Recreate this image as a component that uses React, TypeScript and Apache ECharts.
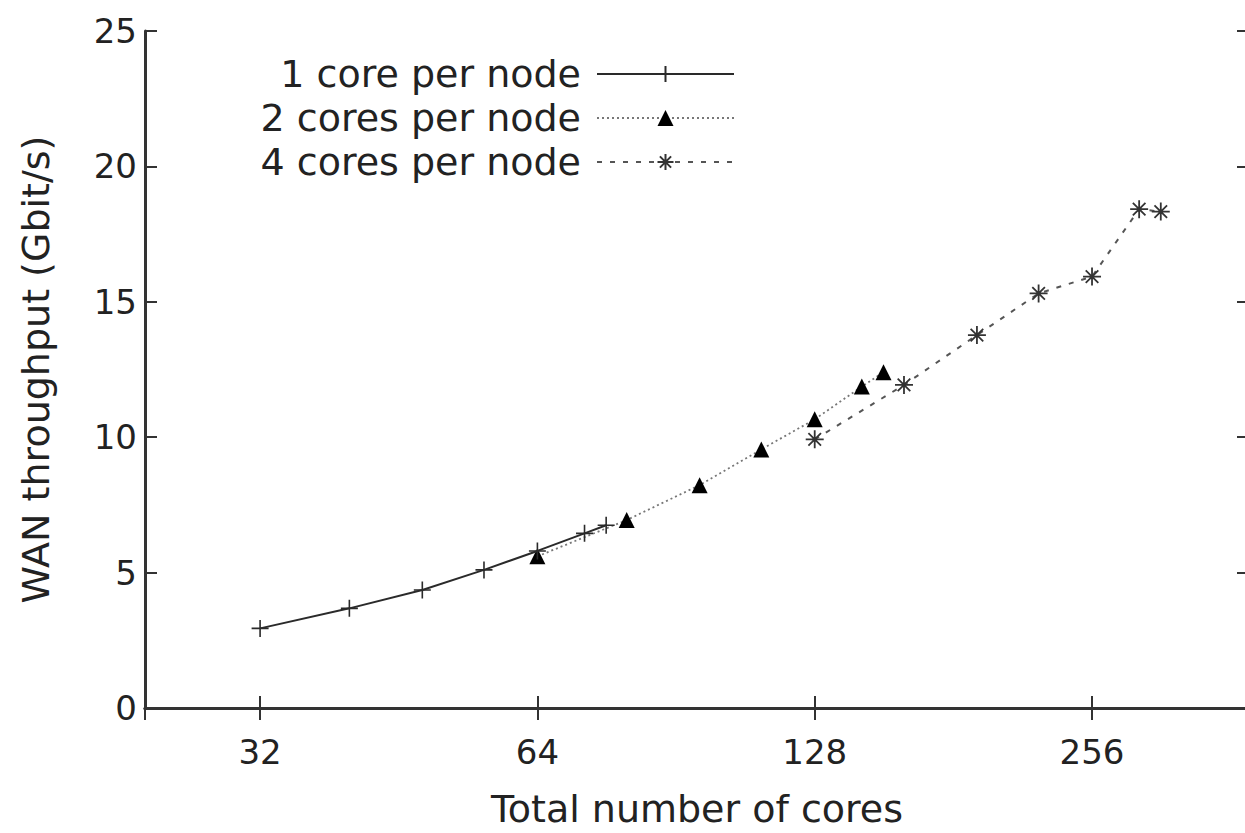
import React, { useEffect, useRef } from 'react';
import * as echarts from 'echarts';

// Total number of cores (x, log2 scale) and WAN throughput in Gbit/s (y)
const cores1 = [32, 40, 48, 56, 64, 72, 76];
const thr1 = [2.94, 3.68, 4.36, 5.1, 5.8, 6.45, 6.75];
const cores2 = [64, 80, 96, 112, 128, 144, 152];
const thr2 = [5.6, 6.94, 8.23, 9.55, 10.66, 11.87, 12.4];
const cores4 = [128, 160, 192, 224, 256, 288, 304];
const thr4 = [9.92, 11.93, 13.77, 15.31, 15.93, 18.42, 18.33];
const seriesNames = ['1 core per node', '2 cores per node', '4 cores per node'];
const xTicks = [32, 64, 128, 256];
const yTicks = [0, 5, 10, 15, 20, 25];

const FONT = 'DejaVu Sans';
const INK = '#222';
const FRAME = '#333';

const PLUS = 'path://M0,5L10,5M5,0L5,10';
const STAR = 'path://M0,5L10,5M5,0L5,10M1.5,1.5L8.5,8.5M1.5,8.5L8.5,1.5';

function zip(xs: number[], ys: number[]) {
  return xs.map((x, i) => [x, ys[i]]);
}

export default function App() {
  const ref = useRef<HTMLDivElement>(null);
  useEffect(() => {
    if (!ref.current) return;
    const chart = echarts.init(ref.current, null, { renderer: 'svg' });
    const axisLine = { show: true, lineStyle: { color: FRAME, width: 3 } };
    const axisTick = { show: true, inside: true, length: 12, lineStyle: { color: FRAME, width: 2 } };
    const xBase = {
      type: 'log' as const,
      logBase: 2,
      min: 24,
      max: 379,
      splitLine: { show: false },
      minorTick: { show: false },
      axisLine,
      axisTick,
    };
    const yBase = {
      type: 'value' as const,
      min: yTicks[0],
      max: yTicks[yTicks.length - 1],
      interval: 5,
      splitLine: { show: false },
      axisLine,
      axisTick,
    };
    chart.setOption({
      animation: false,
      backgroundColor: '#fff',
      textStyle: { fontFamily: FONT, color: INK },
      grid: {
        left: 145,
        top: 31,
        width: 1104,
        height: 677,
        containLabel: false,
        outerBoundsMode: 'none',
        show: false,
      },
      legend: {
        orient: 'vertical',
        align: 'right',
        right: 510,
        top: 55,
        padding: 0,
        itemGap: 6,
        itemWidth: 137,
        itemHeight: 20,
        data: seriesNames,
        textStyle: { fontFamily: FONT, fontSize: 38, color: INK, padding: [0, 11, 0, 0] },
      },
      xAxis: [
        {
          ...xBase,
          position: 'bottom',
          name: 'Total number of cores',
          nameLocation: 'middle',
          nameGap: 82,
          nameTextStyle: { fontFamily: FONT, fontSize: 38, color: INK },
          axisLabel: {
            show: true,
            margin: 27,
            fontFamily: FONT,
            fontSize: 34,
            color: INK,
            showMinLabel: false,
            showMaxLabel: false,
            formatter: (v: number) => {
              const r = Math.round(v);
              return xTicks.indexOf(r) >= 0 ? String(r) : '';
            },
          },
        },
        {
          ...xBase,
          position: 'top',
          axisLabel: { show: false },
        },
      ],
      yAxis: [
        {
          ...yBase,
          position: 'left',
          name: 'WAN throughput (Gbit/s)',
          nameLocation: 'middle',
          nameGap: 90,
          nameRotate: 90,
          nameTextStyle: { fontFamily: FONT, fontSize: 38, color: INK },
          axisLabel: { show: true, margin: 8, fontFamily: FONT, fontSize: 34, color: INK },
        },
        {
          ...yBase,
          position: 'right',
          axisLabel: { show: false },
        },
      ],
      series: [
        {
          name: seriesNames[0],
          type: 'line',
          xAxisIndex: 0,
          yAxisIndex: 0,
          data: zip(cores1, thr1),
          symbol: PLUS,
          symbolSize: 17,
          showAllSymbol: true,
          lineStyle: { color: '#2a2a2a', width: 2, type: 'solid' },
          itemStyle: { color: '#2a2a2a', borderColor: '#2a2a2a', borderWidth: 1.6 },
          z: 3,
        },
        {
          name: seriesNames[1],
          type: 'line',
          xAxisIndex: 0,
          yAxisIndex: 0,
          data: zip(cores2, thr2),
          symbol: 'triangle',
          symbolSize: 16,
          showAllSymbol: true,
          lineStyle: { color: '#777', width: 1.8, type: [2, 3] },
          itemStyle: { color: '#000', borderWidth: 0 },
          z: 2,
        },
        {
          name: seriesNames[2],
          type: 'line',
          xAxisIndex: 0,
          yAxisIndex: 0,
          data: zip(cores4, thr4),
          symbol: STAR,
          symbolSize: 18,
          showAllSymbol: true,
          lineStyle: { color: '#555', width: 2, type: [5, 8] },
          itemStyle: { color: '#333', borderColor: '#333', borderWidth: 1.8 },
          z: 2,
        },
      ],
    });
    return () => chart.dispose();
  }, []);
  return (
    <div
      ref={ref}
      style={{ position: 'fixed', left: 0, top: 0, width: 1245, height: 833, background: '#fff' }}
    />
  );
}
